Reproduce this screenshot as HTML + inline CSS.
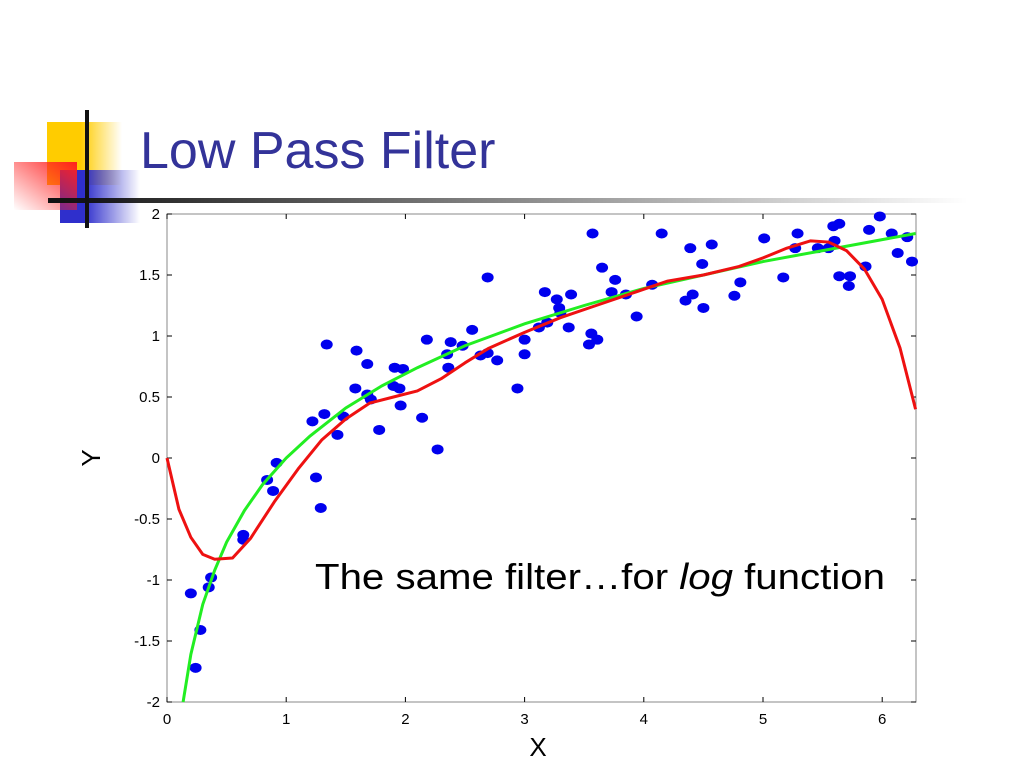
<!DOCTYPE html>
<html><head><meta charset="utf-8"><style>
body{margin:0;width:1024px;height:768px;background:#fff;overflow:hidden;font-family:"Liberation Sans",sans-serif}
</style></head><body>
<svg width="1024" height="768" viewBox="0 0 1024 768" xmlns="http://www.w3.org/2000/svg">
<defs>
<linearGradient id="gy" x1="0" x2="1"><stop offset="0.45" stop-color="#ffcc00"/><stop offset="1" stop-color="#ffcc00" stop-opacity="0"/></linearGradient>
<linearGradient id="gr" x1="1" x2="0" y1="0" y2="1"><stop offset="0" stop-color="#ff2020"/><stop offset="1" stop-color="#ff2020" stop-opacity="0"/></linearGradient>
<linearGradient id="gb" x1="0" x2="1"><stop offset="0.3" stop-color="#2f2fcc"/><stop offset="1" stop-color="#2f2fcc" stop-opacity="0"/></linearGradient>
<linearGradient id="gl" x1="0" x2="1"><stop offset="0" stop-color="#111"/><stop offset="1" stop-color="#111" stop-opacity="0"/></linearGradient>
</defs>
<g>
<rect x="47" y="122" width="75" height="63" fill="url(#gy)"/>
<rect x="60" y="170" width="80" height="53" fill="url(#gb)"/>
<rect x="14" y="162" width="63" height="48" fill="url(#gr)"/>
<rect x="48" y="198" width="920" height="5" fill="url(#gl)"/>
<rect x="85" y="110" width="4" height="118" fill="#111"/>
</g>
<text x="140" y="168" font-size="52" fill="#333399">Low Pass Filter</text>
<rect x="167" y="214" width="749" height="488" fill="none" stroke="#888" stroke-width="1"/>
<g id="ticks"></g>
<g id="plot"></g>
<text x="538" y="756" font-size="26" text-anchor="middle">X</text>
<text transform="translate(100,458) rotate(-90)" font-size="26" text-anchor="middle">Y</text>
<text x="315" y="589" font-size="36" textLength="570" lengthAdjust="spacingAndGlyphs">The same filter…for <tspan font-style="italic">log</tspan>  function</text>
</svg>
<script>
const xTicks=[0,1,2,3,4,5,6];
const yTicks=[-2,-1.5,-1,-0.5,0,0.5,1,1.5,2];
const yTickLabels=["-2","-1.5","-1","-0.5","0","0.5","1","1.5","2"];
const scatterX=[0.20,0.24,0.28,0.35,0.37,0.64,0.64,0.84,0.89,0.92,1.22,1.25,1.29,1.32,1.34,1.43,1.48,1.58,1.59,1.68,1.68,1.71,1.78,1.90,1.91,1.98,1.95,1.96,2.14,2.18,2.27,2.35,2.36,2.38,2.48,2.56,2.63,2.69,2.77,2.69,2.94,3.0,3.0,3.12,3.17,3.19,3.27,3.29,3.3,3.37,3.39,3.54,3.56,3.61,3.57,3.65,3.73,3.76,3.85,3.94,4.07,4.15,4.35,4.41,4.39,4.49,4.50,4.57,4.76,4.81,5.01,5.17,5.27,5.29,5.46,5.55,5.59,5.64,5.60,5.64,5.73,5.72,5.86,5.89,5.98,6.08,6.13,6.21,6.25];
const scatterY=[-1.11,-1.72,-1.41,-1.06,-0.98,-0.67,-0.63,-0.18,-0.27,-0.04,0.30,-0.16,-0.41,0.36,0.93,0.19,0.34,0.57,0.88,0.77,0.52,0.48,0.23,0.59,0.74,0.73,0.57,0.43,0.33,0.97,0.07,0.85,0.74,0.95,0.92,1.05,0.84,0.86,0.80,1.48,0.57,0.85,0.97,1.07,1.36,1.11,1.30,1.23,1.19,1.07,1.34,0.93,1.02,0.97,1.84,1.56,1.36,1.46,1.34,1.16,1.42,1.84,1.29,1.34,1.72,1.59,1.23,1.75,1.33,1.44,1.80,1.48,1.72,1.84,1.72,1.72,1.90,1.92,1.78,1.49,1.49,1.41,1.57,1.87,1.98,1.84,1.68,1.81,1.61];
const greenX=[0.135,0.2,0.3,0.4,0.5,0.65,0.8,1.0,1.2,1.5,1.8,2.1,2.5,3.0,3.5,4.0,4.5,5.0,5.5,6.0,6.28];
const greenY=[-2.0,-1.61,-1.20,-0.92,-0.69,-0.43,-0.22,0.0,0.18,0.41,0.59,0.74,0.92,1.10,1.25,1.39,1.50,1.61,1.70,1.79,1.84];
const redX=[0,0.1,0.2,0.3,0.4,0.55,0.7,0.9,1.1,1.3,1.5,1.7,1.9,2.1,2.3,2.5,2.7,3.0,3.3,3.6,3.9,4.2,4.5,4.8,5.0,5.2,5.4,5.55,5.7,5.85,6.0,6.15,6.28];
const redY=[0,-0.42,-0.65,-0.79,-0.83,-0.82,-0.66,-0.36,-0.09,0.15,0.32,0.45,0.50,0.55,0.65,0.78,0.90,1.03,1.15,1.25,1.35,1.45,1.50,1.57,1.64,1.72,1.78,1.77,1.70,1.55,1.30,0.90,0.40];
const X0=167,XS=119.2,Y0=458,YS=122;
const sx=v=>X0+v*XS, sy=v=>Y0-v*YS;
const NS="http://www.w3.org/2000/svg";
const tk=document.getElementById('ticks'), pl=document.getElementById('plot');
function mk(tag,attrs,parent){const e=document.createElementNS(NS,tag);for(const k in attrs)e.setAttribute(k,attrs[k]);parent.appendChild(e);return e;}
xTicks.forEach(v=>{
  mk('line',{x1:sx(v),x2:sx(v),y1:214,y2:219,stroke:'#000'},tk);
  mk('line',{x1:sx(v),x2:sx(v),y1:702,y2:697,stroke:'#000'},tk);
  const t=mk('text',{x:sx(v),y:724,'font-size':15,'text-anchor':'middle'},tk);
  
  
  t.textContent=String(v);
});
yTicks.forEach((v,i)=>{
  mk('line',{x1:167,x2:172,y1:sy(v),y2:sy(v),stroke:'#000'},tk);
  mk('line',{x1:916,x2:911,y1:sy(v),y2:sy(v),stroke:'#000'},tk);
  const t=mk('text',{x:160,y:sy(v)+5,'font-size':15,'text-anchor':'end'},tk);
  
  
  t.textContent=yTickLabels[i];
});
scatterX.forEach((v,i)=>{
  const c=mk('ellipse',{cx:sx(v),cy:sy(scatterY[i]),rx:6,ry:5,fill:'#0000ee'},pl);
  
  
});
const g=mk('polyline',{points:greenX.map((v,i)=>sx(v)+','+sy(greenY[i])).join(' '),fill:'none',stroke:'#22ee22','stroke-width':3},pl);


const r=mk('polyline',{points:redX.map((v,i)=>sx(v)+','+sy(redY[i])).join(' '),fill:'none',stroke:'#ee1111','stroke-width':3,'stroke-linejoin':'round'},pl);


</script>
</body></html>
